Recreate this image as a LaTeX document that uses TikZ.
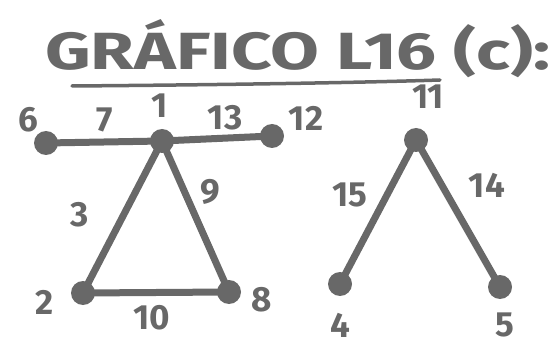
\documentclass[tikz,border=0pt]{standalone}
\usepackage{fontspec}
\setmainfont{Fira Sans}
\definecolor{ink}{RGB}{104,104,104}
\begin{document}
\begin{tikzpicture}[x=1pt,y=-1pt,
  vtx/.style={circle,fill=ink,minimum size=24pt,inner sep=0pt},
  edge/.style={ink,line width=7pt,line cap=round},
  lbl/.style={text=ink,font=\fontsize{35}{35}\selectfont\bfseries,inner sep=0pt}]
\useasboundingbox (0,0) rectangle (559,347);
% title
\node[text=ink,anchor=base west,inner sep=0pt] (title) at (45,70)
  {\resizebox{505pt}{50pt}{\bfseries GRÁFICO L16 (c):}};
\coordinate (ul1) at (72,86);
\coordinate (ul2) at (440,80);
\draw[ink,line width=3.5pt,line cap=round] (ul1) .. controls (200,85) and (350,83) .. (ul2);
% vertices
\node[vtx] (v6) at (46,143) {};
\node[vtx] (v1) at (162,141) {};
\node[vtx] (v12) at (272,136) {};
\node[vtx] (v2) at (83,293) {};
\node[vtx] (v8) at (229,292) {};
\node[vtx] (v11) at (416,140) {};
\node[vtx] (v4) at (340,284) {};
\node[vtx] (v5) at (500,287) {};
% edges
\draw[edge] (v6.center) -- (v1.center);
\draw[edge] (v1.center) -- (v12.center);
\draw[edge] (v1.center) -- (v2.center);
\draw[edge] (v1.center) -- (v8.center);
\draw[edge] (v2.center) -- (v8.center);
\draw[edge] (v11.center) -- (v4.center);
\draw[edge] (v11.center) -- (v5.center);
% vertex labels
\node[lbl] (l6) at (28,120) {6};
\node[lbl] (l1) at (160,106) {1};
\node[lbl] (l12) at (306,118) {12};
\node[lbl] (l11) at (428,97) {11};
\node[lbl] (l2) at (45,302) {2};
\node[lbl] (l8) at (262,300) {8};
\node[lbl] (l4) at (340,325) {4};
\node[lbl] (l5) at (505,325) {5};
% edge labels
\node[lbl] (e7) at (105,120) {7};
\node[lbl] (e13) at (225,118) {13};
\node[lbl] (e3) at (80,215) {3};
\node[lbl] (e9) at (210,192) {9};
\node[lbl] (e10) at (152,318) {10};
\node[lbl] (e15) at (350,195) {15};
\node[lbl] (e14) at (487,185) {14};
\end{tikzpicture}
\end{document}
